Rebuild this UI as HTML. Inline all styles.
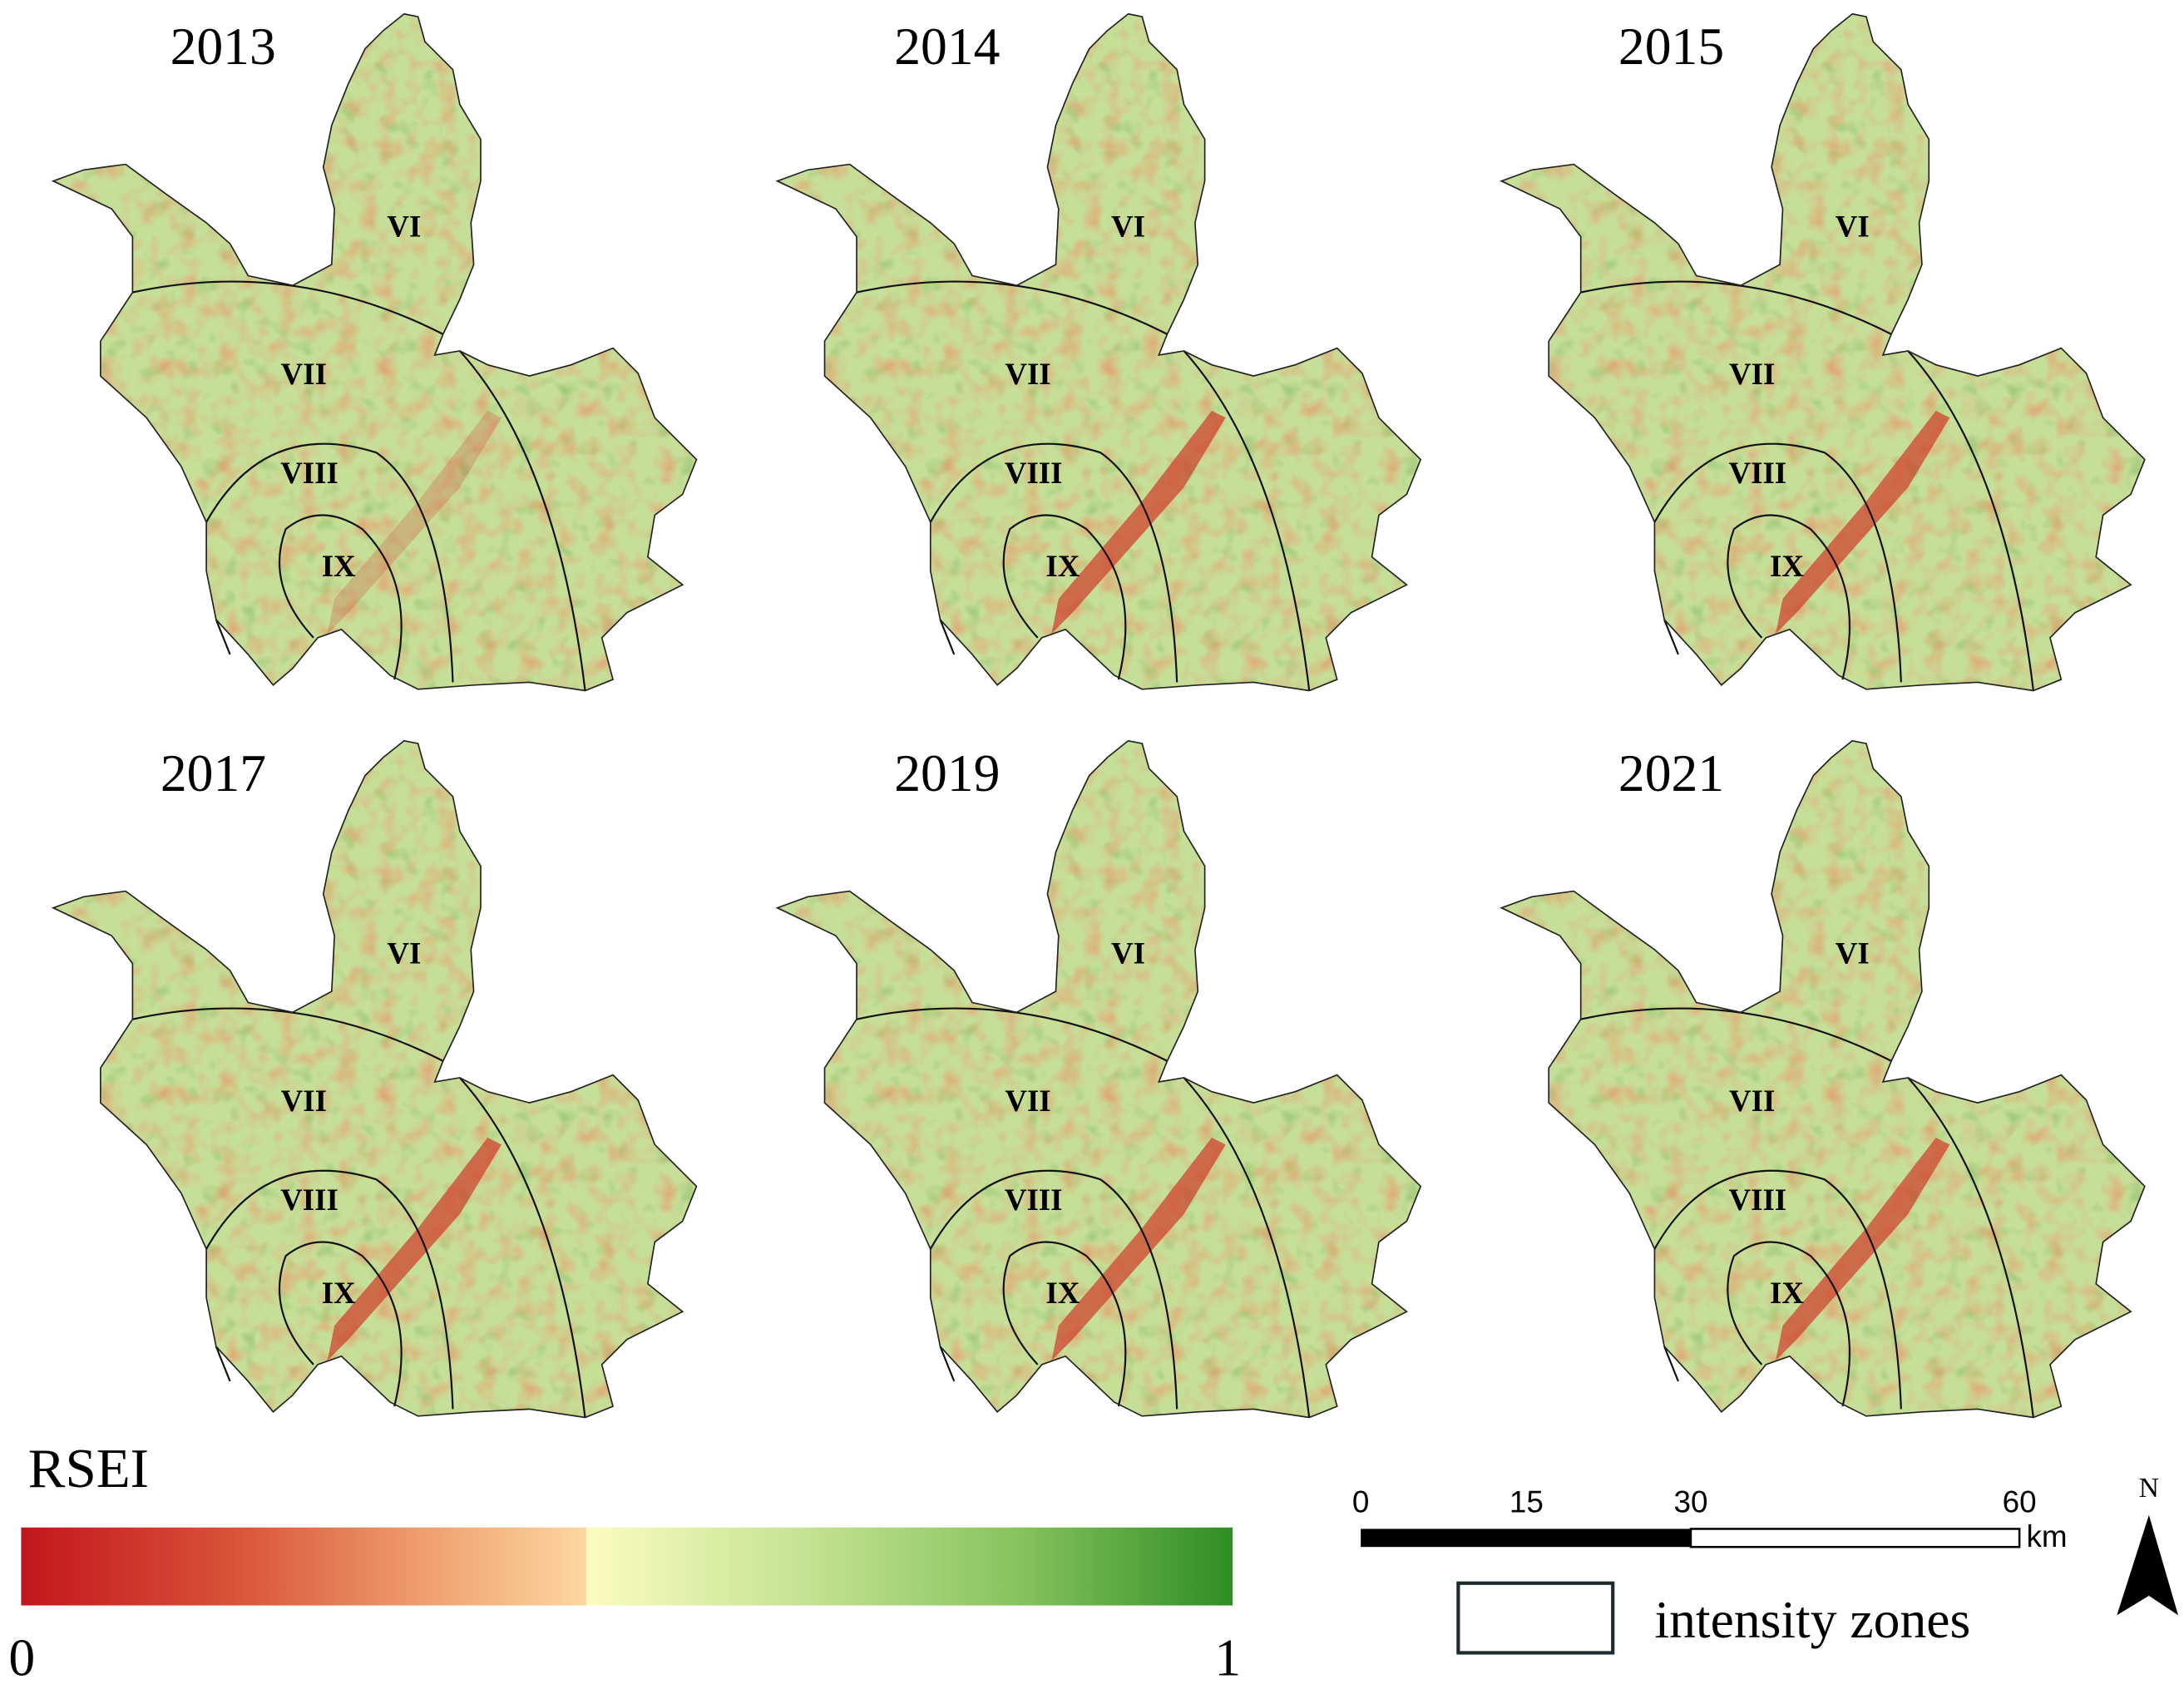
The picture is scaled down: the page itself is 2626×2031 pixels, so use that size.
<!DOCTYPE html>
<html><head><meta charset="utf-8"><style>
html,body{margin:0;padding:0;background:#fff;}
svg{display:block;}
text{font-family:"Liberation Serif",serif;}
</style></head><body>
<svg id="fig" width="2626" height="2031" viewBox="0 0 1568 1213" xmlns="http://www.w3.org/2000/svg">
<defs>
<linearGradient id="cbar" x1="0" x2="1" y1="0" y2="0">
<stop offset="0" stop-color="#c2161b"/>
<stop offset="0.18" stop-color="#d9543a"/>
<stop offset="0.33" stop-color="#ee9e6e"/>
<stop offset="0.466" stop-color="#fcd6a0"/>
<stop offset="0.467" stop-color="#fbfcbf"/>
<stop offset="0.65" stop-color="#c3e292"/>
<stop offset="0.82" stop-color="#88c45e"/>
<stop offset="1" stop-color="#2f8d24"/>
</linearGradient>
<filter id="tex" x="0" y="0" width="1" height="1">
<feTurbulence type="fractalNoise" baseFrequency="0.07" numOctaves="2" seed="4" result="n"/>
<feColorMatrix in="n" type="matrix" values="0 0 0 0 0  0 0 0 0 0  0 0 0 0 0  1.8 0 0 0 -0.8" result="a"/>
<feFlood flood-color="#e39a6e"/>
<feComposite in2="a" operator="in" result="r"/>
<feColorMatrix in="n" type="matrix" values="0 0 0 0 0  0 0 0 0 0  0 0 0 0 0  0 -1.8 0 0 0.75" result="a2"/>
<feFlood flood-color="#6fb34c"/>
<feComposite in2="a2" operator="in" result="gdark"/>
<feMerge result="m"><feMergeNode in="SourceGraphic"/><feMergeNode in="gdark"/><feMergeNode in="r"/></feMerge>
<feComposite in="m" in2="SourceAlpha" operator="in"/>
</filter>
<path id="outline" d="M290,10 L300,12 L305,30 L325,50 L330,75 L345,100 L345,130 L338,160 L340,190 L330,215 L318,240 L312,255 L330,252 L350,262 L380,270 L410,262 L440,250 L458,268 L470,300 L500,330 L490,355 L470,370 L465,400 L490,420 L470,430 L450,440 L432,458 L440,488 L420,496 L380,490 L340,492 L300,495 L280,485 L262,468 L245,452 L228,458 L210,480 L196,492 L178,470 L155,445 L148,410 L148,375 L130,335 L105,300 L72,270 L72,245 L95,210 L95,170 L80,150 L38,130 L60,122 L90,118 L120,140 L148,160 L165,175 L178,198 L210,205 L238,190 L240,150 L232,120 L238,90 L250,60 L262,35 L275,22 Z"/>
</defs>
<g id="panels"></g>
<text x="20" y="1068" font-size="40">RSEI</text>
<rect x="15" y="1097" width="870" height="56" fill="url(#cbar)"/>
<text x="6" y="1203" font-size="38">0</text>
<text x="872" y="1203" font-size="38">1</text>
<g>
<rect x="977" y="1098" width="237" height="13" fill="#000"/>
<rect x="1214" y="1098" width="236" height="13" fill="#fff" stroke="#000" stroke-width="1.5"/>
<text x="977" y="1086" font-size="22" text-anchor="middle" style="font-family:'Liberation Sans',sans-serif">0</text>
<text x="1096" y="1086" font-size="22" text-anchor="middle" style="font-family:'Liberation Sans',sans-serif">15</text>
<text x="1214" y="1086" font-size="22" text-anchor="middle" style="font-family:'Liberation Sans',sans-serif">30</text>
<text x="1450" y="1086" font-size="22" text-anchor="middle" style="font-family:'Liberation Sans',sans-serif">60</text>
<text x="1455" y="1111" font-size="22" style="font-family:'Liberation Sans',sans-serif">km</text>
</g>
<rect x="1047" y="1137" width="111" height="50" fill="none" stroke="#1e2a30" stroke-width="2.5"/>
<text x="1188" y="1176" font-size="38">intensity zones</text>
<g>
<text x="1543" y="1075" font-size="20" text-anchor="middle">N</text>
<path d="M1543,1088 L1564,1160 L1543,1146 L1520,1160 Z" fill="#000"/>
</g>
</svg>
<script>
const years = ['2013','2014','2015','2017','2019','2021'];
const zones = ['VI','VII','VIII','IX'];
const ns = 'http://www.w3.org/2000/svg';
const g = document.getElementById('panels');
years.forEach((y,i)=>{
  const dx = (i%3)*520, dy = Math.floor(i/3)*522;
  const p = document.createElementNS(ns,'g');
  p.setAttribute('transform','translate('+dx+','+dy+')');
  
  
  const u = document.createElementNS(ns,'use');
  u.setAttribute('href','#outline');
  u.setAttribute('fill','#c6df98');
  u.setAttribute('filter','url(#tex)');
  
  
  p.appendChild(u);
  const streak = document.createElementNS(ns,'path');
  streak.setAttribute('d','M235,455 L250,440 L330,350 L360,300 L350,295 L300,360 L240,430 Z');
  streak.setAttribute('fill','#cf3a2a');
  streak.setAttribute('opacity', i===0 ? '0.25' : '0.7');
  
  
  p.appendChild(streak);
  const z = document.createElementNS(ns,'path');
  z.setAttribute('d','M95,210 Q210,185 318,240 M330,252 Q400,330 420,496 M148,375 Q190,300 270,325 Q320,360 325,490 M225,458 Q190,420 205,380 Q230,360 260,380 Q300,420 283,488 M155,445 L165,470');
  z.setAttribute('fill','none');
  z.setAttribute('stroke','#111');
  z.setAttribute('stroke-width','1.3');
  
  
  p.appendChild(z);
  const ol = document.createElementNS(ns,'use');
  ol.setAttribute('href','#outline');
  ol.setAttribute('fill','none');
  ol.setAttribute('stroke','#222');
  ol.setAttribute('stroke-width','1');
  
  
  p.appendChild(ol);
  const zl = [[290,170],[218,276],[222,347],[243,414]];
  zones.forEach((zn,k)=>{
    const t = document.createElementNS(ns,'text');
    t.setAttribute('x',zl[k][0]); t.setAttribute('y',zl[k][1]);
    t.setAttribute('font-size','22'); t.setAttribute('font-weight','bold');
    t.setAttribute('text-anchor','middle');
    
    
    t.textContent = zn; p.appendChild(t);
  });
  const yt = document.createElementNS(ns,'text');
  yt.setAttribute('x', i===3 ? 115 : 122); yt.setAttribute('y',46);
  yt.setAttribute('font-size','38');
  
  
  yt.textContent = y; p.appendChild(yt);
  g.appendChild(p);
});
</script>
</body></html>
